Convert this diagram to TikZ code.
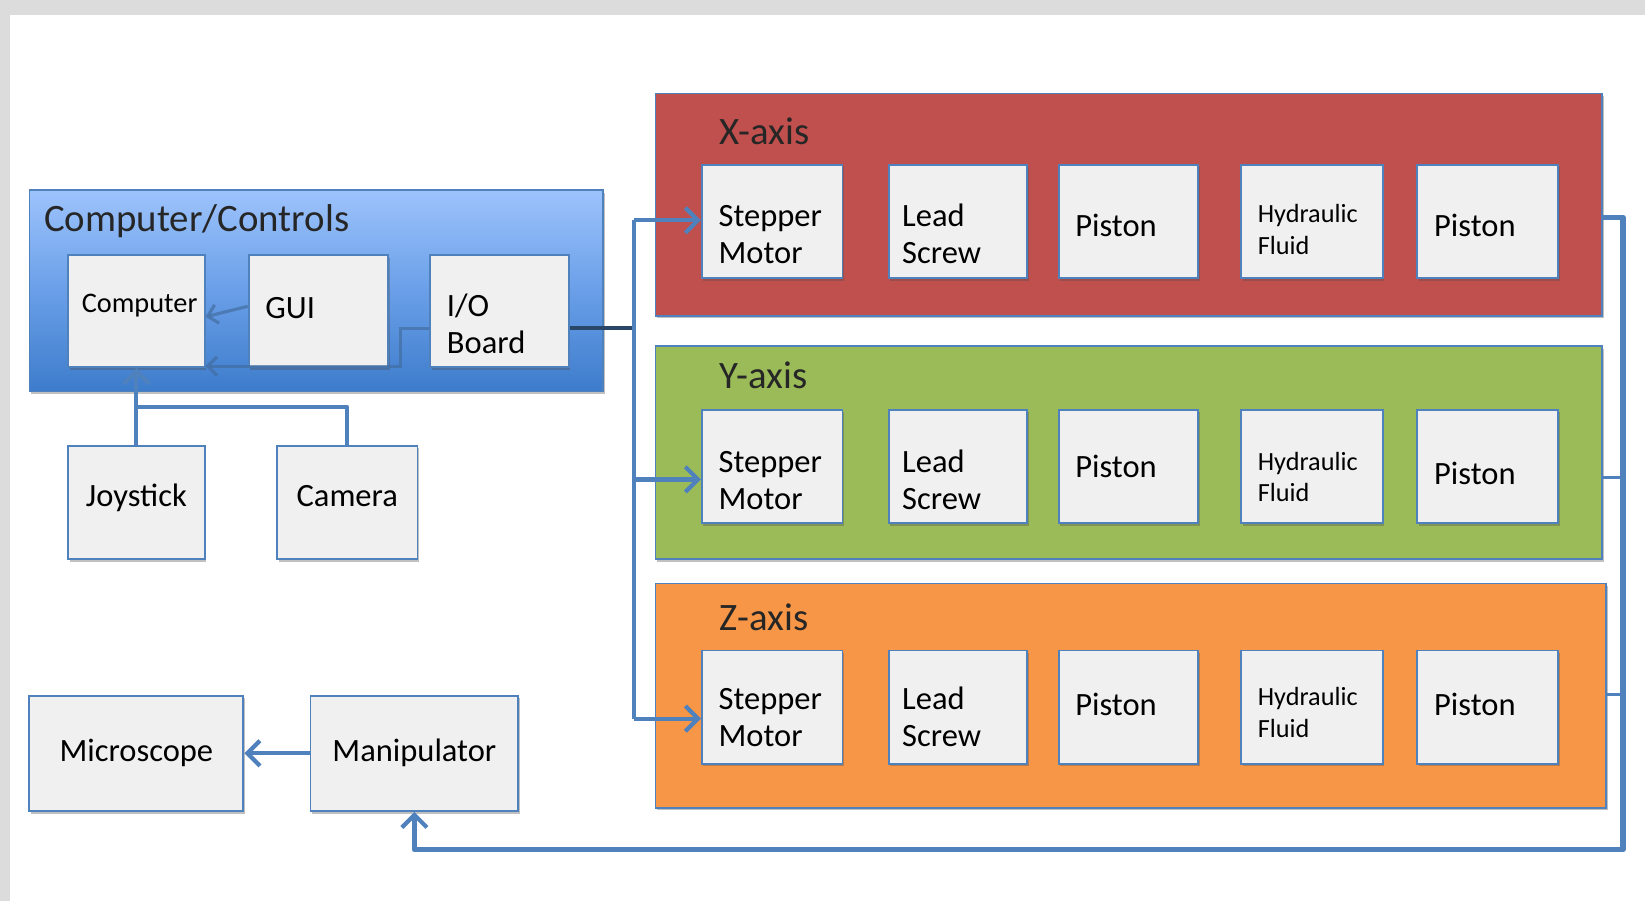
\documentclass[tikz,border=0pt]{standalone}
\usepackage{fontspec}
\setmainfont{Carlito}
\usetikzlibrary{arrows.meta,shadows,calc}
\definecolor{ln}{HTML}{4F81BD}
\definecolor{bxf}{HTML}{F0F0F0}
\definecolor{xr}{HTML}{C0504D}
\definecolor{yg}{HTML}{9BBB59}
\definecolor{zo}{HTML}{F79646}
\definecolor{bgg}{HTML}{DCDCDC}
\definecolor{ctop}{HTML}{9DC3FC}
\definecolor{cmid}{HTML}{6A9FE8}
\definecolor{cbot}{HTML}{3D7CCB}
\newcommand\topgap[1]{\rule[-0.3\baselineskip]{0pt}{\dimexpr0.7\baselineskip+#1\relax}}
\newcommand\botgap[1]{\rule[\dimexpr-0.3\baselineskip-#1\relax]{0pt}{\dimexpr\baselineskip+#1\relax}}
\tikzset{
  sh/.style={drop shadow={shadow xshift=1.5pt,shadow yshift=-2.5pt,opacity=0.35,fill=black!70}},
  sub/.style={draw=ln,line width=1.8pt,fill=bxf,sh,minimum height=108pt,inner xsep=16pt,inner ysep=0pt,
    align=left,text width=#1,font=\fontsize{31}{35}\selectfont},
  cbox/.style={draw=ln,line width=1.8pt,fill=bxf,sh,align=center,inner sep=0pt,font=\fontsize{31}{35}\selectfont},
  grp/.style={draw=ln,line width=1.5pt,sh,inner sep=0pt},
  ttl/.style={font=\fontsize{37}{44}\selectfont,inner sep=0pt,anchor=west,text=black!85},
  conn/.style={draw=ln,line width=4pt,line join=round},
  arr/.style={conn,-{Straight Barb[length=12pt,width=24pt,line width=4pt]}},
  faint/.style={draw=ln!85!black,line width=3pt,opacity=0.7,-{Straight Barb[length=9pt,width=18pt]}}
}
\begin{document}
\begin{tikzpicture}[x=1pt,y=-1pt]
\useasboundingbox (0,0) rectangle (1568,859);
\fill[white] (0,0) rectangle (1568,859);
\fill[bgg] (0,0) rectangle (1568,14);
\fill[bgg] (0,0) rectangle (10,859);

% Computer / Controls group
\node[grp,top color=ctop,bottom color=cbot,middle color=cmid,minimum width=547pt,minimum height=192pt] (cc) at (301.5,277) {};
\node[ttl] (cct) at (42,211) {Computer/Controls};
\node[sub=104pt,inner xsep=13pt,minimum height=107pt,font=\fontsize{27}{32}\selectfont] (comp) at (130,296.5) {\strut Computer\botgap{10pt}};
\node[sub=101pt,minimum height=107pt] (gui) at (303.5,296.5) {\strut GUI};
\node[sub=100pt,minimum height=107pt] (io) at (476,296.5) {\topgap{42pt}I/O\\\strut Board};

% axis groups
\node[grp,fill=xr,minimum width=902pt,minimum height=212pt] (xa) at (1076,195) {};
\node[grp,fill=yg,minimum width=902pt,minimum height=203pt] (ya) at (1076,431.5) {};
\node[grp,fill=zo,minimum width=906pt,minimum height=214pt] (za) at (1078,663) {};
\node[ttl] (xt) at (686,125) {X-axis};
\node[ttl] (yt) at (686,358) {Y-axis};
\node[ttl] (zt) at (686,588) {Z-axis};

\foreach \r/\yy/\ga/\gb/\gc/\gd in {x/211/42pt/26pt/30pt/26pt,y/444.5/44pt/18pt/34pt/32pt,z/674/36pt/12pt/24pt/12pt}{
  \node[sub=102pt] (\r-s) at (736,\yy) {\topgap{\ga}Stepper\\\strut Motor};
  \node[sub=100pt,inner xsep=13pt,text width=106pt] (\r-l) at (913,\yy) {\topgap{\ga}Lead\\\strut Screw};
  \node[sub=101pt] (\r-p) at (1075.5,\yy) {\topgap{\gb}Piston};
  \node[sub=103pt,font=\fontsize{25}{30}\selectfont] (\r-h) at (1250.5,\yy) {\topgap{\gc}Hydraulic\\\strut Fluid};
  \node[sub=102pt] (\r-q) at (1418,\yy) {\topgap{\gd}Piston};
}

% peripherals
\node[cbox,minimum width=130pt,minimum height=108pt] (joy) at (130,479) {Joystick\botgap{6pt}};
\node[cbox,minimum width=134pt,minimum height=108pt] (cam) at (331,479) {Camera\botgap{6pt}};
\node[cbox,minimum width=204pt,minimum height=110pt] (mic) at (130,718) {Microscope};
\node[cbox,minimum width=198pt,minimum height=110pt] (man) at (395,718) {Manipulator};

% internal connectors
\draw[faint] (gui.west |- 0,292) -- (comp.east |- 0,302);
\draw[faint] (io.west |- 0,313) -- (382,313) -- (382,349) -- (comp.east |- 0,349);

% I/O board to stepper motors
\coordinate (bt) at (604,210);
\coordinate (bm) at (604,457);
\coordinate (bb) at (604,685);
\draw[conn,draw=ln!55!black] (io.east |- 0,313) -- (bt |- 0,313);
\draw[conn] (bt) -- (bb);
\draw[arr] (bt) -- (x-s.west |- bt);
\draw[arr] (bm) -- (y-s.west |- bm);
\draw[arr] (bb) -- (z-s.west |- bb);

% joystick and camera to computer
\draw[arr] (joy.north) -- (comp.south);
\draw[conn] (cam.north) -- (cam.north |- 0,388) -- (joy.north |- 0,388);

% manipulator to microscope
\draw[arr] (man.west) -- (mic.east);

% axis feedback to manipulator
\coordinate (fr) at (1547,810);
\draw[arr,line width=5pt] (xa.east |- 0,207) -- (fr |- 0,207) -- (fr) -- (man.south |- fr) -- (man.south);
\draw[conn,line width=3.5pt] (ya.east |- 0,455) -- (fr |- 0,455);
\draw[conn,line width=3.5pt] (za.east |- 0,662) -- (fr |- 0,662);
\end{tikzpicture}
\end{document}
